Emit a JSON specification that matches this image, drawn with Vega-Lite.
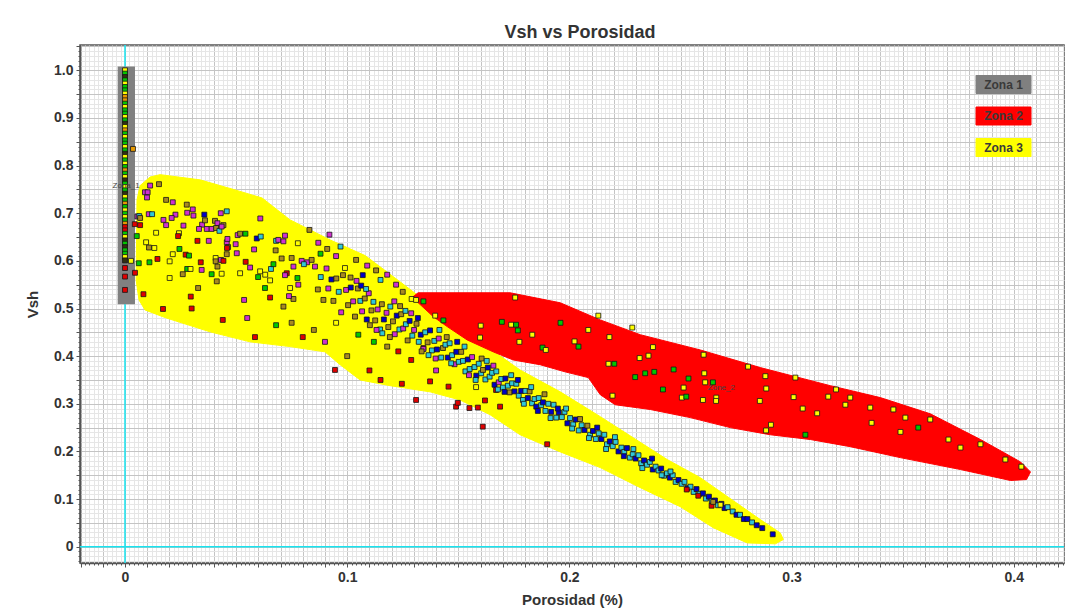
{
  "$schema": "https://vega.github.io/schema/vega-lite/v6.json",
  "autosize": {"type": "none"},
  "width": 984,
  "height": 518,
  "padding": {"left": 80, "top": 45, "right": 1, "bottom": 46},
  "background": "white",
  "title": {"text": "Vsh vs Porosidad", "font": "Liberation Sans", "fontSize": 18, "fontWeight": "bold", "color": "#333333", "anchor": "middle", "offset": -3, "dx": 8},
  "config": {
    "view": {"stroke": "#555555", "strokeWidth": 1.5},
    "axis": {"labelFont": "Liberation Sans", "titleFont": "Liberation Sans", "labelFontWeight": "bold", "titleFontWeight": "bold", "labelColor": "#333333", "titleColor": "#333333", "domainColor": "#555555", "domainWidth": 1.5, "tickColor": "#555555", "labelOverlap": false, "labelFlush": false, "gridWidth": 1}
  },
  "datasets": {
    "zones": [
      {"zone":"Zona 3","x":0.0054,"y":0.728},{"zone":"Zona 3","x":0.0068,"y":0.758},{"zone":"Zona 3","x":0.0113,"y":0.776},{"zone":"Zona 3","x":0.0158,"y":0.781},{"zone":"Zona 3","x":0.0338,"y":0.770},{"zone":"Zona 3","x":0.0495,"y":0.749},{"zone":"Zona 3","x":0.0617,"y":0.732},{"zone":"Zona 3","x":0.0743,"y":0.686},{"zone":"Zona 3","x":0.0923,"y":0.644},{"zone":"Zona 3","x":0.1081,"y":0.611},{"zone":"Zona 3","x":0.1238,"y":0.556},{"zone":"Zona 3","x":0.1373,"y":0.508},{"zone":"Zona 3","x":0.1553,"y":0.445},{"zone":"Zona 3","x":0.1778,"y":0.371},{"zone":"Zona 3","x":0.1959,"y":0.325},{"zone":"Zona 3","x":0.2139,"y":0.273},{"zone":"Zona 3","x":0.2440,"y":0.183},{"zone":"Zona 3","x":0.2589,"y":0.145},{"zone":"Zona 3","x":0.2859,"y":0.057},{"zone":"Zona 3","x":0.2949,"y":0.029},{"zone":"Zona 3","x":0.2963,"y":0.015},{"zone":"Zona 3","x":0.2927,"y":0.006},{"zone":"Zona 3","x":0.2800,"y":0.008},{"zone":"Zona 3","x":0.2647,"y":0.040},{"zone":"Zona 3","x":0.2499,"y":0.084},{"zone":"Zona 3","x":0.2319,"y":0.124},{"zone":"Zona 3","x":0.2139,"y":0.166},{"zone":"Zona 3","x":0.1959,"y":0.199},{"zone":"Zona 3","x":0.1778,"y":0.235},{"zone":"Zona 3","x":0.1643,"y":0.277},{"zone":"Zona 3","x":0.1508,"y":0.308},{"zone":"Zona 3","x":0.1373,"y":0.325},{"zone":"Zona 3","x":0.1193,"y":0.338},{"zone":"Zona 3","x":0.1058,"y":0.350},{"zone":"Zona 3","x":0.0968,"y":0.382},{"zone":"Zona 3","x":0.0900,"y":0.409},{"zone":"Zona 3","x":0.0743,"y":0.420},{"zone":"Zona 3","x":0.0563,"y":0.430},{"zone":"Zona 3","x":0.0383,"y":0.451},{"zone":"Zona 3","x":0.0180,"y":0.481},{"zone":"Zona 3","x":0.0090,"y":0.497},{"zone":"Zona 3","x":0.0063,"y":0.518},{"zone":"Zona 3","x":0.0050,"y":0.560},{"zone":"Zona 3","x":0.0054,"y":0.728},
      {"zone":"Zona 2","x":0.1297,"y":0.525},{"zone":"Zona 2","x":0.1319,"y":0.533},{"zone":"Zona 2","x":0.1733,"y":0.533},{"zone":"Zona 2","x":0.1959,"y":0.512},{"zone":"Zona 2","x":0.2139,"y":0.476},{"zone":"Zona 2","x":0.2319,"y":0.445},{"zone":"Zona 2","x":0.2589,"y":0.413},{"zone":"Zona 2","x":0.2859,"y":0.376},{"zone":"Zona 2","x":0.3174,"y":0.338},{"zone":"Zona 2","x":0.3399,"y":0.313},{"zone":"Zona 2","x":0.3624,"y":0.279},{"zone":"Zona 2","x":0.3850,"y":0.225},{"zone":"Zona 2","x":0.4030,"y":0.178},{"zone":"Zona 2","x":0.4075,"y":0.157},{"zone":"Zona 2","x":0.4057,"y":0.141},{"zone":"Zona 2","x":0.3985,"y":0.139},{"zone":"Zona 2","x":0.3760,"y":0.162},{"zone":"Zona 2","x":0.3489,"y":0.187},{"zone":"Zona 2","x":0.3264,"y":0.210},{"zone":"Zona 2","x":0.3084,"y":0.225},{"zone":"Zona 2","x":0.2904,"y":0.235},{"zone":"Zona 2","x":0.2724,"y":0.250},{"zone":"Zona 2","x":0.2544,"y":0.271},{"zone":"Zona 2","x":0.2364,"y":0.288},{"zone":"Zona 2","x":0.2206,"y":0.298},{"zone":"Zona 2","x":0.2139,"y":0.319},{"zone":"Zona 2","x":0.2085,"y":0.355},{"zone":"Zona 2","x":0.1981,"y":0.367},{"zone":"Zona 2","x":0.1868,"y":0.382},{"zone":"Zona 2","x":0.1747,"y":0.392},{"zone":"Zona 2","x":0.1657,"y":0.409},{"zone":"Zona 2","x":0.1540,"y":0.434},{"zone":"Zona 2","x":0.1450,"y":0.462},{"zone":"Zona 2","x":0.1387,"y":0.483},{"zone":"Zona 2","x":0.1315,"y":0.514},{"zone":"Zona 2","x":0.1297,"y":0.525}
    ],
    "box": [{"zone":"Zona 1","x1":-0.0033,"x2":0.0045,"y1":0.509,"y2":1.008}],
    "origin": [{"v":0}],
    "lbl": [{"x":0.0005,"y":0.758,"t":"Zona_1"},{"x":0.2684,"y":0.334,"t":"Zone_2"}],
    "pts": [
      {"x":0,"y":1.000,"c":"y"},{"x":0,"y":0.993,"c":"g"},{"x":0,"y":0.986,"c":"k"},{"x":0,"y":0.979,"c":"g"},{"x":0,"y":0.972,"c":"y"},{"x":0,"y":0.965,"c":"g"},{"x":0,"y":0.958,"c":"g"},{"x":0,"y":0.951,"c":"y"},{"x":0,"y":0.944,"c":"o"},{"x":0,"y":0.937,"c":"o"},{"x":0,"y":0.930,"c":"g"},{"x":0,"y":0.923,"c":"y"},{"x":0,"y":0.916,"c":"g"},{"x":0,"y":0.909,"c":"g"},{"x":0,"y":0.902,"c":"y"},{"x":0,"y":0.895,"c":"g"},{"x":0,"y":0.888,"c":"k"},{"x":0,"y":0.881,"c":"y"},{"x":0,"y":0.874,"c":"o"},{"x":0,"y":0.867,"c":"g"},{"x":0,"y":0.860,"c":"y"},{"x":0,"y":0.853,"c":"g"},{"x":0,"y":0.846,"c":"g"},{"x":0,"y":0.839,"c":"y"},{"x":0,"y":0.832,"c":"g"},{"x":0,"y":0.825,"c":"k"},{"x":0,"y":0.818,"c":"y"},{"x":0,"y":0.811,"c":"g"},{"x":0,"y":0.804,"c":"y"},{"x":0,"y":0.797,"c":"g"},{"x":0,"y":0.790,"c":"o"},{"x":0,"y":0.783,"c":"g"},{"x":0,"y":0.776,"c":"y"},{"x":0,"y":0.769,"c":"k"},{"x":0,"y":0.762,"c":"g"},{"x":0,"y":0.755,"c":"y"},{"x":0,"y":0.748,"c":"g"},{"x":0,"y":0.741,"c":"k"},{"x":0,"y":0.734,"c":"y"},{"x":0,"y":0.727,"c":"g"},{"x":0,"y":0.720,"c":"o"},{"x":0,"y":0.713,"c":"g"},{"x":0,"y":0.706,"c":"y"},{"x":0,"y":0.699,"c":"g"},{"x":0,"y":0.692,"c":"y"},{"x":0,"y":0.685,"c":"g"},{"x":0,"y":0.678,"c":"o"},{"x":0,"y":0.671,"c":"r"},{"x":0,"y":0.664,"c":"r"},{"x":0,"y":0.657,"c":"g"},{"x":0,"y":0.650,"c":"y"},{"x":0,"y":0.643,"c":"k"},{"x":0,"y":0.636,"c":"g"},{"x":0,"y":0.629,"c":"k"},{"x":0,"y":0.622,"c":"g"},{"x":0,"y":0.615,"c":"g"},{"x":0,"y":0.608,"c":"y"},{"x":0,"y":0.601,"c":"k"},{"x":0,"y":0.585,"c":"r"},{"x":0,"y":0.567,"c":"r"},{"x":0,"y":0.539,"c":"r"},{"x":0.0045,"y":0.575,"c":"r"},{"x":0.0036,"y":0.835,"c":"o"},{"x":0.0056,"y":0.693,"c":"m"},{"x":0.0064,"y":0.694,"c":"c"},{"x":0.0068,"y":0.675,"c":"r"},{"x":0.0027,"y":0.600,"c":"y"},
      {"x":0.0113,"y":0.758,"c":"m"},{"x":0.0153,"y":0.761,"c":"d"},{"x":0.009,"y":0.744,"c":"m"},{"x":0.0102,"y":0.744,"c":"m"},{"x":0.0099,"y":0.733,"c":"m"},{"x":0.0185,"y":0.728,"c":"d"},{"x":0.0215,"y":0.723,"c":"m"},{"x":0.0278,"y":0.718,"c":"d"},{"x":0.0305,"y":0.708,"c":"m"},{"x":0.0107,"y":0.698,"c":"m"},{"x":0.0122,"y":0.698,"c":"c"},{"x":0.0227,"y":0.697,"c":"m"},{"x":0.028,"y":0.701,"c":"m"},{"x":0.0357,"y":0.697,"c":"b"},{"x":0.0431,"y":0.700,"c":"m"},{"x":0.0458,"y":0.704,"c":"c"},{"x":0.0068,"y":0.690,"c":"d"},{"x":0.0044,"y":0.677,"c":"r"},{"x":0.0173,"y":0.686,"c":"m"},{"x":0.021,"y":0.690,"c":"m"},{"x":0.0308,"y":0.695,"c":"m"},{"x":0.0185,"y":0.675,"c":"m"},{"x":0.0263,"y":0.674,"c":"m"},{"x":0.0347,"y":0.676,"c":"m"},{"x":0.036,"y":0.685,"c":"d"},{"x":0.0405,"y":0.684,"c":"d"},{"x":0.0416,"y":0.679,"c":"m"},{"x":0.0443,"y":0.675,"c":"d"},{"x":0.0333,"y":0.667,"c":"m"},{"x":0.0368,"y":0.667,"c":"m"},{"x":0.039,"y":0.667,"c":"m"},{"x":0.041,"y":0.669,"c":"d"},{"x":0.0425,"y":0.663,"c":"c"},{"x":0.0435,"y":0.672,"c":"m"},{"x":0.014,"y":0.659,"c":"y"},{"x":0.0243,"y":0.658,"c":"y"},{"x":0.0239,"y":0.652,"c":"r"},{"x":0.0053,"y":0.652,"c":"g"},{"x":0.0095,"y":0.639,"c":"y"},{"x":0.0132,"y":0.627,"c":"y"},{"x":0.0108,"y":0.628,"c":"d"},{"x":0.0326,"y":0.642,"c":"r"},{"x":0.0377,"y":0.642,"c":"m"},{"x":0.0245,"y":0.625,"c":"g"},{"x":0.0458,"y":0.639,"c":"m"},{"x":0.0464,"y":0.629,"c":"d"},{"x":0.0461,"y":0.646,"c":"m"},{"x":0.0498,"y":0.635,"c":"m"},{"x":0.0507,"y":0.654,"c":"m"},{"x":0.0518,"y":0.657,"c":"d"},{"x":0.0542,"y":0.657,"c":"g"},{"x":0.0593,"y":0.647,"c":"b"},{"x":0.0611,"y":0.651,"c":"c"},{"x":0.0609,"y":0.689,"c":"m"},{"x":0.068,"y":0.642,"c":"c"},{"x":0.069,"y":0.644,"c":"m"},{"x":0.0713,"y":0.641,"c":"m"},{"x":0.072,"y":0.653,"c":"m"},{"x":0.0778,"y":0.637,"c":"y"},{"x":0.0273,"y":0.613,"c":"r"},{"x":0.0288,"y":0.611,"c":"g"},{"x":0.0215,"y":0.614,"c":"y"},{"x":0.0146,"y":0.604,"c":"r"},{"x":0.011,"y":0.597,"c":"g"},{"x":0.0062,"y":0.595,"c":"g"},{"x":0.0201,"y":0.599,"c":"y"},{"x":0.0341,"y":0.597,"c":"r"},{"x":0.0345,"y":0.581,"c":"m"},{"x":0.028,"y":0.583,"c":"g"},{"x":0.0295,"y":0.583,"c":"y"},{"x":0.026,"y":0.572,"c":"d"},{"x":0.0408,"y":0.606,"c":"y"},{"x":0.0408,"y":0.599,"c":"d"},{"x":0.0416,"y":0.588,"c":"d"},{"x":0.0432,"y":0.602,"c":"m"},{"x":0.0443,"y":0.600,"c":"r"},{"x":0.039,"y":0.572,"c":"g"},{"x":0.0435,"y":0.573,"c":"y"},{"x":0.0458,"y":0.614,"c":"d"},{"x":0.0459,"y":0.627,"c":"r"},{"x":0.0503,"y":0.616,"c":"m"},{"x":0.0518,"y":0.574,"c":"y"},{"x":0.0543,"y":0.598,"c":"r"},{"x":0.0563,"y":0.586,"c":"m"},{"x":0.0581,"y":0.624,"c":"m"},{"x":0.0608,"y":0.578,"c":"y"},{"x":0.0599,"y":0.566,"c":"g"},{"x":0.063,"y":0.543,"c":"g"},{"x":0.0653,"y":0.559,"c":"y"},{"x":0.0631,"y":0.571,"c":"y"},{"x":0.0657,"y":0.583,"c":"c"},{"x":0.0668,"y":0.593,"c":"g"},{"x":0.0678,"y":0.622,"c":"d"},{"x":0.0705,"y":0.605,"c":"d"},{"x":0.0728,"y":0.574,"c":"r"},{"x":0.072,"y":0.570,"c":"m"},{"x":0.075,"y":0.606,"c":"d"},{"x":0.0758,"y":0.588,"c":"m"},{"x":0.0776,"y":0.564,"c":"g"},{"x":0.078,"y":0.550,"c":"m"},{"x":0.0743,"y":0.543,"c":"y"},{"x":0.0653,"y":0.523,"c":"r"},{"x":0.0713,"y":0.504,"c":"d"},{"x":0.0758,"y":0.520,"c":"d"},{"x":0.0738,"y":0.526,"c":"m"},{"x":0.0536,"y":0.518,"c":"m"},{"x":0.0413,"y":0.557,"c":"d"},{"x":0.0329,"y":0.543,"c":"d"},{"x":0.0296,"y":0.525,"c":"r"},{"x":0.0201,"y":0.564,"c":"y"},{"x":0.0083,"y":0.530,"c":"r"},{"x":0.0171,"y":0.499,"c":"r"},
      {"x":0.0795,"y":0.600,"c":"m"},{"x":0.082,"y":0.597,"c":"m"},{"x":0.0805,"y":0.593,"c":"c"},{"x":0.084,"y":0.602,"c":"d"},{"x":0.087,"y":0.638,"c":"m"},{"x":0.091,"y":0.625,"c":"d"},{"x":0.095,"y":0.610,"c":"m"},{"x":0.104,"y":0.602,"c":"d"},{"x":0.109,"y":0.590,"c":"m"},{"x":0.113,"y":0.580,"c":"d"},{"x":0.118,"y":0.571,"c":"m"},{"x":0.125,"y":0.535,"c":"d"},{"x":0.099,"y":0.585,"c":"y"},{"x":0.088,"y":0.615,"c":"g"},{"x":0.122,"y":0.550,"c":"m"},{"x":0.129,"y":0.520,"c":"y"},{"x":0.092,"y":0.655,"c":"m"},{"x":0.083,"y":0.665,"c":"d"},{"x":0.097,"y":0.630,"c":"c"},{"x":0.115,"y":0.560,"c":"c"},{"x":0.107,"y":0.570,"c":"b"},
      {"x":0.044,"y":0.476,"c":"r"},{"x":0.0585,"y":0.440,"c":"r"},{"x":0.0945,"y":0.371,"c":"r"},{"x":0.080,"y":0.440,"c":"r"},{"x":0.115,"y":0.350,"c":"r"},{"x":0.131,"y":0.308,"c":"r"},{"x":0.149,"y":0.294,"c":"r"},{"x":0.123,"y":0.410,"c":"r"},{"x":0.1288,"y":0.392,"c":"r"},{"x":0.1373,"y":0.347,"c":"r"},{"x":0.1456,"y":0.336,"c":"r"},{"x":0.1498,"y":0.302,"c":"r"},{"x":0.155,"y":0.291,"c":"r"},{"x":0.1588,"y":0.292,"c":"r"},{"x":0.162,"y":0.307,"c":"r"},{"x":0.1688,"y":0.294,"c":"r"},{"x":0.1246,"y":0.342,"c":"r"},{"x":0.1343,"y":0.417,"c":"r"},{"x":0.167,"y":0.329,"c":"r"},{"x":0.161,"y":0.252,"c":"r"},{"x":0.190,"y":0.215,"c":"r"},{"x":0.030,"y":0.500,"c":"r"},{"x":0.075,"y":0.470,"c":"d"},{"x":0.090,"y":0.430,"c":"m"},{"x":0.085,"y":0.455,"c":"d"},{"x":0.095,"y":0.470,"c":"y"},{"x":0.105,"y":0.445,"c":"g"},{"x":0.055,"y":0.480,"c":"m"},{"x":0.068,"y":0.465,"c":"g"},{"x":0.110,"y":0.370,"c":"r"},{"x":0.100,"y":0.400,"c":"d"},{"x":0.118,"y":0.420,"c":"d"},{"x":0.112,"y":0.430,"c":"g"},{"x":0.140,"y":0.370,"c":"m"},{"x":0.158,"y":0.335,"c":"y"},
      {"x":0.0855,"y":0.588,"c":"m"},{"x":0.0868,"y":0.540,"c":"d"},{"x":0.0881,"y":0.566,"c":"c"},{"x":0.0893,"y":0.518,"c":"d"},{"x":0.0907,"y":0.584,"c":"m"},{"x":0.0915,"y":0.542,"c":"m"},{"x":0.0929,"y":0.561,"c":"b"},{"x":0.0938,"y":0.516,"c":"d"},{"x":0.0951,"y":0.563,"c":"d"},{"x":0.0962,"y":0.535,"c":"c"},{"x":0.0973,"y":0.492,"c":"m"},{"x":0.0981,"y":0.570,"c":"d"},{"x":0.0995,"y":0.539,"c":"m"},{"x":0.1004,"y":0.507,"c":"d"},{"x":0.1016,"y":0.544,"c":"b"},{"x":0.1027,"y":0.515,"c":"m"},{"x":0.1035,"y":0.483,"c":"d"},{"x":0.1048,"y":0.542,"c":"d"},{"x":0.1059,"y":0.516,"c":"c"},{"x":0.1067,"y":0.494,"c":"m"},{"x":0.1079,"y":0.521,"c":"d"},{"x":0.1088,"y":0.477,"c":"b"},{"x":0.1097,"y":0.532,"c":"m"},{"x":0.1109,"y":0.496,"c":"d"},{"x":0.1118,"y":0.514,"c":"c"},{"x":0.1126,"y":0.475,"c":"d"},{"x":0.1137,"y":0.498,"c":"m"},{"x":0.1148,"y":0.456,"c":"c"},{"x":0.1156,"y":0.509,"c":"d"},{"x":0.1165,"y":0.477,"c":"b"},{"x":0.1177,"y":0.491,"c":"m"},{"x":0.1185,"y":0.461,"c":"d"},{"x":0.1194,"y":0.504,"c":"c"},{"x":0.1206,"y":0.473,"c":"d"},{"x":0.1214,"y":0.446,"c":"m"},{"x":0.1223,"y":0.485,"c":"b"},{"x":0.1235,"y":0.456,"c":"c"},{"x":0.1243,"y":0.488,"c":"d"},{"x":0.1252,"y":0.458,"c":"m"},{"x":0.1264,"y":0.467,"c":"c"},{"x":0.1272,"y":0.433,"c":"d"},{"x":0.1281,"y":0.474,"c":"b"},{"x":0.1293,"y":0.443,"c":"c"},{"x":0.1301,"y":0.455,"c":"m"},
      {"x":0.1312,"y":0.468,"c":"d"},{"x":0.1322,"y":0.430,"c":"c"},{"x":0.1331,"y":0.445,"c":"b"},{"x":0.1343,"y":0.415,"c":"m"},{"x":0.1351,"y":0.450,"c":"c"},{"x":0.1362,"y":0.429,"c":"d"},{"x":0.1373,"y":0.454,"c":"b"},{"x":0.1381,"y":0.412,"c":"c"},{"x":0.1392,"y":0.432,"c":"c"},{"x":0.1404,"y":0.414,"c":"b"},{"x":0.1412,"y":0.437,"c":"m"},{"x":0.1423,"y":0.397,"c":"c"},{"x":0.1431,"y":0.417,"c":"d"},{"x":0.1442,"y":0.424,"c":"c"},{"x":0.1453,"y":0.397,"c":"b"},{"x":0.1461,"y":0.427,"c":"c"},{"x":0.1472,"y":0.402,"c":"c"},{"x":0.1483,"y":0.383,"c":"m"},{"x":0.1491,"y":0.409,"c":"b"},{"x":0.1502,"y":0.388,"c":"c"},{"x":0.1513,"y":0.409,"c":"d"},{"x":0.1521,"y":0.390,"c":"c"},{"x":0.1532,"y":0.368,"c":"c"},{"x":0.1543,"y":0.393,"c":"b"},{"x":0.1551,"y":0.373,"c":"c"},{"x":0.1562,"y":0.398,"c":"m"},{"x":0.1573,"y":0.377,"c":"c"},{"x":0.1581,"y":0.359,"c":"b"},{"x":0.1592,"y":0.384,"c":"c"},{"x":0.1603,"y":0.364,"c":"c"},{"x":0.1611,"y":0.371,"c":"d"},{"x":0.1622,"y":0.351,"c":"c"},{"x":0.1633,"y":0.376,"c":"b"},{"x":0.1641,"y":0.357,"c":"c"},{"x":0.1652,"y":0.365,"c":"c"},{"x":0.1663,"y":0.340,"c":"b"},{"x":0.1671,"y":0.368,"c":"c"},{"x":0.1682,"y":0.345,"c":"m"},{"x":0.1693,"y":0.352,"c":"c"},{"x":0.1701,"y":0.334,"c":"c"},{"x":0.1712,"y":0.353,"c":"b"},{"x":0.1723,"y":0.338,"c":"c"},{"x":0.1731,"y":0.324,"c":"d"},{"x":0.1742,"y":0.343,"c":"c"},{"x":0.1753,"y":0.326,"c":"b"},{"x":0.1761,"y":0.342,"c":"c"},{"x":0.1772,"y":0.317,"c":"c"},{"x":0.1783,"y":0.327,"c":"b"},{"x":0.1791,"y":0.308,"c":"c"},{"x":0.1802,"y":0.327,"c":"c"},{"x":0.1813,"y":0.312,"c":"b"},{"x":0.1821,"y":0.326,"c":"d"},{"x":0.1832,"y":0.301,"c":"c"},{"x":0.1843,"y":0.310,"c":"c"},{"x":0.1851,"y":0.294,"c":"b"},{"x":0.1862,"y":0.312,"c":"c"},{"x":0.1873,"y":0.297,"c":"c"},{"x":0.1881,"y":0.303,"c":"b"},{"x":0.1892,"y":0.285,"c":"c"},
      {"x":0.1905,"y":0.300,"c":"c"},{"x":0.1918,"y":0.283,"c":"b"},{"x":0.1929,"y":0.298,"c":"c"},{"x":0.1941,"y":0.271,"c":"c"},{"x":0.1952,"y":0.282,"c":"b"},{"x":0.1966,"y":0.272,"c":"c"},{"x":0.1978,"y":0.283,"c":"c"},{"x":0.1991,"y":0.259,"c":"b"},{"x":0.2003,"y":0.270,"c":"c"},{"x":0.2017,"y":0.257,"c":"c"},{"x":0.2029,"y":0.267,"c":"b"},{"x":0.2042,"y":0.244,"c":"c"},{"x":0.2055,"y":0.255,"c":"c"},{"x":0.2068,"y":0.245,"c":"b"},{"x":0.2081,"y":0.254,"c":"d"},{"x":0.2093,"y":0.235,"c":"c"},{"x":0.2106,"y":0.243,"c":"b"},{"x":0.2119,"y":0.226,"c":"c"},{"x":0.2132,"y":0.238,"c":"c"},{"x":0.2144,"y":0.226,"c":"b"},{"x":0.2157,"y":0.235,"c":"c"},{"x":0.2169,"y":0.215,"c":"c"},{"x":0.2182,"y":0.221,"c":"b"},{"x":0.2195,"y":0.211,"c":"c"},{"x":0.2208,"y":0.220,"c":"c"},{"x":0.2221,"y":0.200,"c":"b"},{"x":0.2234,"y":0.208,"c":"c"},{"x":0.2247,"y":0.199,"c":"c"},{"x":0.2259,"y":0.207,"c":"b"},{"x":0.2272,"y":0.187,"c":"c"},{"x":0.2285,"y":0.194,"c":"c"},{"x":0.2298,"y":0.185,"c":"b"},{"x":0.2311,"y":0.192,"c":"c"},{"x":0.2323,"y":0.175,"c":"c"},{"x":0.2336,"y":0.181,"c":"b"},{"x":0.2349,"y":0.172,"c":"c"},{"x":0.2362,"y":0.178,"c":"c"},{"x":0.2375,"y":0.162,"c":"b"},{"x":0.2388,"y":0.168,"c":"c"},{"x":0.2401,"y":0.160,"c":"c"},{"x":0.2413,"y":0.164,"c":"b"},{"x":0.2426,"y":0.149,"c":"c"},{"x":0.2439,"y":0.154,"c":"c"},{"x":0.2452,"y":0.145,"c":"b"},{"x":0.2465,"y":0.150,"c":"c"},{"x":0.2478,"y":0.136,"c":"c"},{"x":0.2491,"y":0.140,"c":"b"},
      {"x":0.2505,"y":0.132,"c":"c"},{"x":0.2518,"y":0.136,"c":"c"},{"x":0.2531,"y":0.123,"c":"b"},{"x":0.2545,"y":0.126,"c":"c"},{"x":0.2559,"y":0.115,"c":"c"},{"x":0.2572,"y":0.121,"c":"b"},{"x":0.2586,"y":0.111,"c":"c"},{"x":0.2601,"y":0.112,"c":"b"},{"x":0.2614,"y":0.101,"c":"c"},{"x":0.2628,"y":0.105,"c":"b"},{"x":0.2641,"y":0.096,"c":"c"},{"x":0.2655,"y":0.097,"c":"b"},{"x":0.2669,"y":0.087,"c":"c"},{"x":0.2684,"y":0.090,"c":"b"},{"x":0.2698,"y":0.081,"c":"b"},{"x":0.2712,"y":0.083,"c":"c"},{"x":0.2735,"y":0.074,"c":"c"},{"x":0.2752,"y":0.067,"c":"b"},{"x":0.2768,"y":0.067,"c":"c"},{"x":0.2785,"y":0.058,"c":"b"},{"x":0.2801,"y":0.058,"c":"b"},{"x":0.2822,"y":0.051,"c":"c"},{"x":0.2843,"y":0.045,"c":"b"},{"x":0.2868,"y":0.039,"c":"b"},{"x":0.2915,"y":0.026,"c":"b"},{"x":0.2528,"y":0.120,"c":"r"},{"x":0.258,"y":0.107,"c":"r"},{"x":0.264,"y":0.086,"c":"r"},{"x":0.2647,"y":0.094,"c":"d"},{"x":0.268,"y":0.088,"c":"y"},
      {"x":0.1015,"y":0.565,"c":"d"},{"x":0.1042,"y":0.558,"c":"m"},{"x":0.1063,"y":0.548,"c":"b"},{"x":0.1085,"y":0.541,"c":"c"},{"x":0.1102,"y":0.465,"c":"d"},{"x":0.1132,"y":0.455,"c":"m"},{"x":0.1158,"y":0.448,"c":"c"},{"x":0.1192,"y":0.440,"c":"d"},{"x":0.1212,"y":0.515,"c":"m"},{"x":0.1238,"y":0.505,"c":"d"},{"x":0.1262,"y":0.495,"c":"c"},{"x":0.1288,"y":0.490,"c":"m"},{"x":0.1318,"y":0.480,"c":"b"},{"x":0.1335,"y":0.410,"c":"d"},{"x":0.1366,"y":0.402,"c":"c"},{"x":0.1398,"y":0.395,"c":"m"},{"x":0.1415,"y":0.455,"c":"c"},{"x":0.1448,"y":0.440,"c":"d"},{"x":0.1468,"y":0.385,"c":"c"},{"x":0.1495,"y":0.430,"c":"b"},{"x":0.1528,"y":0.420,"c":"c"},{"x":0.1548,"y":0.360,"c":"m"},{"x":0.1578,"y":0.350,"c":"c"},{"x":0.1605,"y":0.395,"c":"d"},{"x":0.1628,"y":0.390,"c":"c"},{"x":0.1658,"y":0.380,"c":"m"},{"x":0.1678,"y":0.330,"c":"c"},{"x":0.1708,"y":0.325,"c":"b"},{"x":0.1738,"y":0.360,"c":"c"},{"x":0.1768,"y":0.350,"c":"b"},{"x":0.1795,"y":0.300,"c":"c"},{"x":0.1828,"y":0.335,"c":"c"},{"x":0.1858,"y":0.285,"c":"b"},{"x":0.1888,"y":0.320,"c":"d"},{"x":0.1915,"y":0.270,"c":"c"},{"x":0.1948,"y":0.290,"c":"b"},{"x":0.1985,"y":0.290,"c":"c"},{"x":0.2012,"y":0.248,"c":"c"},{"x":0.2048,"y":0.268,"c":"d"},{"x":0.2088,"y":0.228,"c":"c"},{"x":0.2125,"y":0.250,"c":"b"},{"x":0.2165,"y":0.205,"c":"c"},{"x":0.2205,"y":0.230,"c":"c"},{"x":0.2245,"y":0.190,"c":"b"},{"x":0.2288,"y":0.205,"c":"c"},{"x":0.2328,"y":0.165,"c":"c"},{"x":0.2372,"y":0.185,"c":"b"},{"x":0.2415,"y":0.150,"c":"c"},{"x":0.2455,"y":0.158,"c":"c"},
      {"x":0.131,"y":0.518,"c":"y"},{"x":0.1343,"y":0.515,"c":"g"},{"x":0.1396,"y":0.485,"c":"y"},{"x":0.1433,"y":0.475,"c":"g"},{"x":0.1601,"y":0.464,"c":"y"},{"x":0.1756,"y":0.523,"c":"y"},{"x":0.1696,"y":0.472,"c":"g"},{"x":0.1738,"y":0.466,"c":"y"},{"x":0.176,"y":0.466,"c":"g"},{"x":0.1768,"y":0.454,"c":"g"},{"x":0.1833,"y":0.445,"c":"y"},{"x":0.1775,"y":0.430,"c":"y"},{"x":0.1598,"y":0.439,"c":"y"},{"x":0.1879,"y":0.418,"c":"g"},{"x":0.1894,"y":0.413,"c":"y"},{"x":0.2023,"y":0.431,"c":"y"},{"x":0.2041,"y":0.420,"c":"g"},{"x":0.213,"y":0.485,"c":"y"},{"x":0.2085,"y":0.455,"c":"y"},{"x":0.2283,"y":0.460,"c":"y"},{"x":0.2176,"y":0.384,"c":"y"},{"x":0.2202,"y":0.384,"c":"g"},{"x":0.2316,"y":0.396,"c":"y"},{"x":0.2356,"y":0.401,"c":"y"},{"x":0.2376,"y":0.419,"c":"y"},{"x":0.2604,"y":0.403,"c":"y"},{"x":0.2341,"y":0.364,"c":"g"},{"x":0.2382,"y":0.367,"c":"g"},{"x":0.2469,"y":0.372,"c":"g"},{"x":0.2296,"y":0.356,"c":"g"},{"x":0.2536,"y":0.353,"c":"g"},{"x":0.2607,"y":0.364,"c":"y"},{"x":0.2611,"y":0.345,"c":"y"},{"x":0.2646,"y":0.345,"c":"g"},{"x":0.2421,"y":0.330,"c":"g"},{"x":0.2514,"y":0.334,"c":"y"},{"x":0.2804,"y":0.378,"c":"y"},{"x":0.2882,"y":0.358,"c":"y"},{"x":0.2886,"y":0.332,"c":"y"},{"x":0.3009,"y":0.314,"c":"y"},{"x":0.2194,"y":0.317,"c":"y"},{"x":0.2506,"y":0.313,"c":"y"},{"x":0.2526,"y":0.315,"c":"g"},{"x":0.2601,"y":0.308,"c":"y"},{"x":0.2661,"y":0.313,"c":"y"},{"x":0.266,"y":0.306,"c":"y"},{"x":0.2857,"y":0.306,"c":"y"},{"x":0.2907,"y":0.256,"c":"y"},{"x":0.2885,"y":0.244,"c":"y"},{"x":0.3017,"y":0.355,"c":"y"},{"x":0.3165,"y":0.315,"c":"y"},{"x":0.3242,"y":0.298,"c":"y"},{"x":0.3264,"y":0.313,"c":"y"},{"x":0.3354,"y":0.292,"c":"y"},{"x":0.3458,"y":0.288,"c":"y"},{"x":0.3512,"y":0.271,"c":"y"},{"x":0.3624,"y":0.267,"c":"y"},{"x":0.3706,"y":0.225,"c":"y"},{"x":0.376,"y":0.208,"c":"y"},{"x":0.3962,"y":0.183,"c":"y"},{"x":0.4034,"y":0.168,"c":"y"},{"x":0.3062,"y":0.235,"c":"g"},{"x":0.349,"y":0.241,"c":"y"},{"x":0.3115,"y":0.280,"c":"y"},{"x":0.336,"y":0.260,"c":"y"},{"x":0.357,"y":0.250,"c":"g"},{"x":0.385,"y":0.215,"c":"y"},{"x":0.320,"y":0.330,"c":"y"},{"x":0.305,"y":0.290,"c":"y"},{"x":0.218,"y":0.440,"c":"y"},{"x":0.196,"y":0.470,"c":"g"}
    ]
  },
  "layer": [
    {
      "data": {"name": "origin"},
      "mark": {"type": "rule", "color": "#19e3ef", "strokeWidth": 1.5},
      "encoding": {
        "x": {"field": "v", "type": "quantitative",
          "scale": {"domain": [-0.02025, 0.42259], "nice": false, "zero": false},
          "axis": {
            "title": "Porosidad (%)", "titleFontSize": 15, "titlePadding": 8,
            "tickCount": 200, "grid": true,
            "gridColor": {"condition": {"test": "abs(datum.value*100-round(datum.value*100))<1e-6", "value": "#c4c4c4"}, "value": "#e6e6e6"},
            "labelExpr": "abs(datum.value*10-round(datum.value*10))<1e-6 ? (abs(datum.value)<1e-9 ? '0' : format(datum.value,'.1f')) : ''",
            "labelFontSize": 14, "labelPadding": 3,
            "tickSize": {"condition": {"test": "abs(datum.value*100-round(datum.value*100))<1e-6", "value": 4}, "value": 2}
          }
        }
      }
    },
    {
      "data": {"name": "origin"},
      "mark": {"type": "rule", "color": "#19e3ef", "strokeWidth": 1.5},
      "encoding": {
        "y": {"field": "v", "type": "quantitative",
          "scale": {"domain": [-0.0342, 1.0531], "nice": false, "zero": false},
          "axis": {
            "title": "Vsh", "titleFontSize": 15, "titlePadding": 13,
            "tickCount": 100, "grid": true,
            "gridColor": {"condition": {"test": "abs(datum.value*20-round(datum.value*20))<1e-6", "value": "#c4c4c4"}, "value": "#e6e6e6"},
            "labelExpr": "abs(datum.value*10-round(datum.value*10))<1e-6 ? (abs(datum.value)<1e-9 ? '0' : format(datum.value,'.1f')) : ''",
            "labelFontSize": 14, "labelPadding": 3,
            "tickSize": {"condition": {"test": "abs(datum.value*20-round(datum.value*20))<1e-6", "value": 4}, "value": 2}
          }
        }
      }
    },
    {
      "data": {"name": "zones"},
      "transform": [{"filter": "datum.zone === 'Zona 3'"}],
      "mark": {"type": "line", "fill": "#ffff00", "strokeWidth": 1},
      "encoding": {
        "x": {"field": "x", "type": "quantitative"},
        "y": {"field": "y", "type": "quantitative"},
        "order": {"value": null},
        "color": {"field": "zone", "type": "nominal"}
      }
    },
    {
      "data": {"name": "zones"},
      "transform": [{"filter": "datum.zone === 'Zona 2'"}],
      "mark": {"type": "line", "fill": "#ff0000", "strokeWidth": 1},
      "encoding": {
        "x": {"field": "x", "type": "quantitative"},
        "y": {"field": "y", "type": "quantitative"},
        "order": {"value": null},
        "color": {"field": "zone", "type": "nominal"}
      }
    },
    {
      "data": {"name": "box"},
      "mark": {"type": "rect", "opacity": 1},
      "encoding": {
        "x": {"field": "x1", "type": "quantitative"},
        "x2": {"field": "x2"},
        "y": {"field": "y1", "type": "quantitative"},
        "y2": {"field": "y2"},
        "color": {"field": "zone", "type": "nominal",
          "scale": {"domain": ["Zona 1", "Zona 2", "Zona 3"], "range": ["#808080", "#ff0000", "#ffff00"]},
          "legend": {
            "title": null, "orient": "none", "legendX": 913, "legendY": 29, "padding": 0,
            "symbolType": "M-2.75,-0.9L2.75,-0.9L2.75,0.9L-2.75,0.9Z", "symbolSize": 400,
            "symbolStrokeColor": "#555555", "symbolStrokeWidth": 1, "symbolOpacity": 1,
            "labelAlign": "center", "labelOffset": -10.5, "labelFont": "Liberation Sans", "labelFontSize": 12, "labelFontWeight": "bold", "labelColor": "#3a3a3a",
            "rowPadding": 8.5,
            "encode": {"symbols": {"update": {"fill": {"scale": "color", "field": "value"}, "stroke": {"value": "#555555"}, "strokeWidth": {"value": 1}, "opacity": {"value": 1}}}}
          }
        }
      }
    },
    {
      "data": {"name": "pts"},
      "mark": {"type": "square", "size": 24, "stroke": "#151515", "strokeWidth": 0.8, "opacity": 1, "filled": true},
      "encoding": {
        "x": {"field": "x", "type": "quantitative"},
        "y": {"field": "y", "type": "quantitative"},
        "fill": {"field": "c", "type": "nominal", "legend": null,
          "scale": {"domain": ["g", "y", "o", "r", "m", "c", "b", "d", "k"], "range": ["#00c800", "#ffff00", "#e89a00", "#e00000", "#d030d0", "#30c8d8", "#0000c8", "#a88a20", "#303010"]}
        }
      }
    },
    {
      "data": {"name": "lbl"},
      "mark": {"type": "text", "font": "Liberation Sans", "fontSize": 8, "color": "#444444"},
      "encoding": {
        "x": {"field": "x", "type": "quantitative"},
        "y": {"field": "y", "type": "quantitative"},
        "text": {"field": "t"}
      }
    }
  ]
}
